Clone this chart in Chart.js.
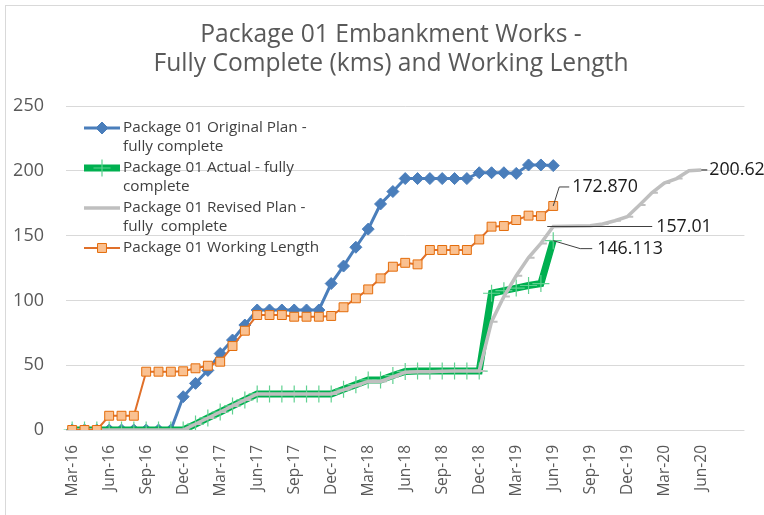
<!DOCTYPE html>
<html>
<head>
<meta charset="utf-8">
<script src="https://cdn.jsdelivr.net/npm/chart.js@4/dist/chart.umd.min.js"></script>
<style>
  html, body { margin: 0; padding: 0; background: #ffffff; overflow: hidden; width: 764px; height: 515px; }
  #frame { position: absolute; left: 5px; top: 5px; width: 900px; height: 700px; border: 1px solid #d9d9d9; }
  #wrap { position: absolute; left: 0; top: 0; width: 764px; height: 515px; }
</style>
</head>
<body>
<div id="frame"></div>
<div id="wrap"><canvas id="c" width="764" height="515"></canvas></div>
<script>
// ---- Data ----
const categories = [
  'Mar-16','Apr-16','May-16','Jun-16','Jul-16','Aug-16','Sep-16','Oct-16','Nov-16','Dec-16',
  'Jan-17','Feb-17','Mar-17','Apr-17','May-17','Jun-17','Jul-17','Aug-17','Sep-17','Oct-17','Nov-17','Dec-17',
  'Jan-18','Feb-18','Mar-18','Apr-18','May-18','Jun-18','Jul-18','Aug-18','Sep-18','Oct-18','Nov-18','Dec-18',
  'Jan-19','Feb-19','Mar-19','Apr-19','May-19','Jun-19','Jul-19','Aug-19','Sep-19','Oct-19','Nov-19','Dec-19',
  'Jan-20','Feb-20','Mar-20','Apr-20','May-20','Jun-20','Jul-20','Aug-20','Sep-20'
];
const titleLines = ['Package 01 Embankment Works -', 'Fully Complete (kms) and Working Length'];
const seriesNames = [
  'Package 01 Original Plan - fully complete',
  'Package 01 Actual - fully complete',
  'Package 01 Revised Plan - fully  complete',
  'Package 01 Working Length'
];
const originalPlan = [
  0, 0, 0, 0, 0, 0, 0, 0, 0, 25.7,
  36, 46, 59, 69.4, 81, 92.6, 92.6, 92.6, 92.6, 92.6, 92.6, 113,
  126.5, 141, 155, 174.4, 184, 194, 194, 194, 194, 194, 194, 198.5,
  198.5, 198.5, 198, 204.5, 204.5, 204
];
const actual = [
  0, 0, 0, 0, 0, 0, 0, 0, 0, 0,
  4.6, 9.3, 13.9, 18.6, 23.2, 27.8, 27.8, 27.8, 27.8, 27.8, 27.8, 27.8,
  31.5, 35, 38.6, 38.6, 42, 45.2, 45.5, 45.5, 45.5, 45.5, 45.5, 45.5,
  105.5, 107.5, 109.5, 111.5, 113, 146.113
];
const revisedPlan = [
  0, 0, 0, 0, 0, 0, 0, 0, 0, 0,
  4.6, 9.3, 13.9, 18.6, 23.2, 27.8, 27.8, 27.8, 27.8, 27.8, 27.8, 27.8,
  31, 34.4, 37.5, 37.5, 41, 44.5, 45, 45, 45.3, 45.5, 45.5, 45.5,
  83.6, 103, 119, 133, 144, 157.01, 157.2, 157.4, 157.6, 159, 161.5, 164.6,
  173.6, 183, 190.5, 194, 200, 200.62
];
const workingLength = [
  0, 0, 0, 11, 11, 11, 45, 45, 45, 45.3,
  47.6, 49.6, 52.7, 64.8, 76.6, 88.7, 88.7, 88.7, 87.4, 87.4, 87.4, 88,
  94.7, 101.6, 108.5, 117, 126, 129, 127.8, 138.9, 138.9, 138.9, 138.9, 147,
  156.9, 157.4, 162, 165.4, 165, 172.87
];
const yTicks = [0, 50, 100, 150, 200, 250];

// ---- Style ----
const FONT = "'Open Sans', 'Liberation Sans', sans-serif";
const TEXT_GRAY = '#595959';

// Title drawn centred on the (wider, cropped) original chart frame
const titleLayout = { cx: 391, y0: 34.5, lineGap: 29.5, size: 24.6 };
const titlePlugin = {
  id: 'titlePlugin',
  afterDraw(chart) {
    const ctx = chart.ctx;
    ctx.save();
    ctx.font = titleLayout.size + 'px ' + FONT;
    ctx.fillStyle = TEXT_GRAY;
    ctx.textAlign = 'center';
    ctx.textBaseline = 'middle';
    titleLines.forEach((t, i) => ctx.fillText(t, titleLayout.cx, titleLayout.y0 + i * titleLayout.lineGap));
    ctx.restore();
  }
};

// data label specs: dataset index, point index, decimals, leader path offsets, text offset
const dataLabels = [
  { ds: 3, idx: 39, decimals: 3, path: [[0, 0], [6, -19], [16, -19]], text: [19, -19] },
  { ds: 2, idx: 39, decimals: 2, path: [[-6, 0], [99, 0]], text: [103, 0] },
  { ds: 1, idx: 39, decimals: 3, path: [[0, 0], [27, 8], [39, 8]], text: [44, 8] },
  { ds: 2, idx: 51, decimals: 2, path: [[0, 0], [6, 0]], text: [8, 0] }
];

const dataLabelPlugin = {
  id: 'dataLabelPlugin',
  afterDatasetsDraw(chart) {
    const ctx = chart.ctx;
    ctx.save();
    dataLabels.forEach(spec => {
      const pt = chart.getDatasetMeta(spec.ds).data[spec.idx];
      const val = chart.data.datasets[spec.ds].data[spec.idx];
      ctx.strokeStyle = '#404040';
      ctx.lineWidth = 1;
      ctx.beginPath();
      spec.path.forEach((p, i) => {
        const px = pt.x + p[0], py = pt.y + p[1];
        if (i === 0) ctx.moveTo(px, py); else ctx.lineTo(px, py);
      });
      ctx.stroke();
      ctx.fillStyle = '#1a1a1a';
      ctx.font = '17.8px ' + FONT;
      ctx.textAlign = 'left';
      ctx.textBaseline = 'middle';
      ctx.fillText(val.toFixed(spec.decimals), pt.x + spec.text[0], pt.y + spec.text[1]);
    });
    ctx.restore();
  }
};

const legendLayout = { x0: 84, x1: 120, textX: 123, y0: 128, itemGap: 40, lineGap: 19, maxWidth: 200 };

function wrapText(ctx, text, maxW) {
  const words = text.split(' ');
  const lines = [];
  let cur = '';
  words.forEach((w, i) => {
    const test = i === 0 ? w : cur + ' ' + w;
    if (ctx.measureText(test).width > maxW && cur.trim() !== '') {
      lines.push(cur);
      cur = w;
    } else {
      cur = test;
    }
  });
  lines.push(cur);
  return lines;
}

const customLegend = {
  id: 'customLegend',
  afterDraw(chart) {
    const ctx = chart.ctx;
    ctx.save();
    ctx.font = '15.3px ' + FONT;
    chart.data.datasets.forEach((ds, i) => {
      const y = legendLayout.y0 + i * legendLayout.itemGap;
      ctx.strokeStyle = ds.borderColor;
      ctx.lineWidth = ds.borderWidth;
      ctx.lineCap = 'butt';
      ctx.beginPath();
      ctx.moveTo(legendLayout.x0, y);
      ctx.lineTo(legendLayout.x1, y);
      ctx.stroke();
      const cx = (legendLayout.x0 + legendLayout.x1) / 2;
      ctx.fillStyle = ds.pointBackgroundColor;
      ctx.strokeStyle = ds.pointBorderColor;
      ctx.lineWidth = ds.pointBorderWidth;
      Chart.helpers.drawPoint(ctx, { pointStyle: ds.pointStyle, radius: ds.pointRadius, borderWidth: ds.pointBorderWidth, rotation: 0 }, cx, y);
      ctx.fillStyle = '#404040';
      ctx.textAlign = 'left';
      ctx.textBaseline = 'middle';
      const lines = wrapText(ctx, ds.label, legendLayout.maxWidth);
      lines.forEach((ln, k) => ctx.fillText(ln, legendLayout.textX, y + k * legendLayout.lineGap));
    });
    ctx.restore();
  }
};

new Chart(document.getElementById('c'), {
  type: 'line',
  data: {
    labels: categories,
    datasets: [
      {
        label: seriesNames[0], data: originalPlan, order: 4,
        borderColor: '#4a7ebb', borderWidth: 3,
        pointStyle: 'rectRot', pointRadius: 6, pointBorderWidth: 1,
        pointBackgroundColor: '#4a7ebb', pointBorderColor: '#4a7ebb'
      },
      {
        label: seriesNames[1], data: actual, order: 3,
        borderColor: '#00b050', borderWidth: 7,
        pointStyle: 'cross', pointRadius: 8.5, pointBorderWidth: 1.2,
        pointBackgroundColor: '#5fd190', pointBorderColor: '#5fd190'
      },
      {
        label: seriesNames[2], data: revisedPlan, order: 2,
        borderColor: '#bfbfbf', borderWidth: 3.5,
        pointStyle: 'dash', pointRadius: 6, pointBorderWidth: 2,
        pointBackgroundColor: '#bfbfbf', pointBorderColor: '#bfbfbf'
      },
      {
        label: seriesNames[3], data: workingLength, order: 1,
        borderColor: '#e0702a', borderWidth: 2,
        pointStyle: 'rect', pointRadius: 6.3, pointBorderWidth: 1,
        pointBackgroundColor: '#fac191', pointBorderColor: '#e46c0a'
      }
    ]
  },
  options: {
    responsive: false,
    animation: false,
    events: [],
    layout: { padding: { left: 0, right: 16, top: 106, bottom: 0 } },
    elements: { line: { tension: 0 } },
    plugins: {
      legend: { display: false },
      tooltip: { enabled: false },
      title: { display: false }
    },
    scales: {
      x: {
        type: 'category',
        offset: true,
        grid: { display: false },
        border: { display: false },
        ticks: {
          autoSkip: false, maxRotation: 90, minRotation: 90, padding: 7,
          color: TEXT_GRAY, font: { family: FONT, size: 15.5 },
          callback: function (value, index) {
            return (index % 3 === 0 && index <= 51) ? this.getLabelForValue(value) : '';
          }
        },
        afterFit: s => { s.height = 85; }
      },
      y: {
        min: yTicks[0], max: yTicks[yTicks.length - 1],
        afterBuildTicks: s => { s.ticks = yTicks.map(v => ({ value: v })); },
        grid: { color: '#d9d9d9', lineWidth: 1, drawTicks: false },
        border: { display: false },
        ticks: { padding: 22, color: TEXT_GRAY, font: { family: FONT, size: 18 } },
        afterFit: s => { s.width = 66; }
      }
    }
  },
  plugins: [titlePlugin, dataLabelPlugin, customLegend]
});
</script>
</body>
</html>
